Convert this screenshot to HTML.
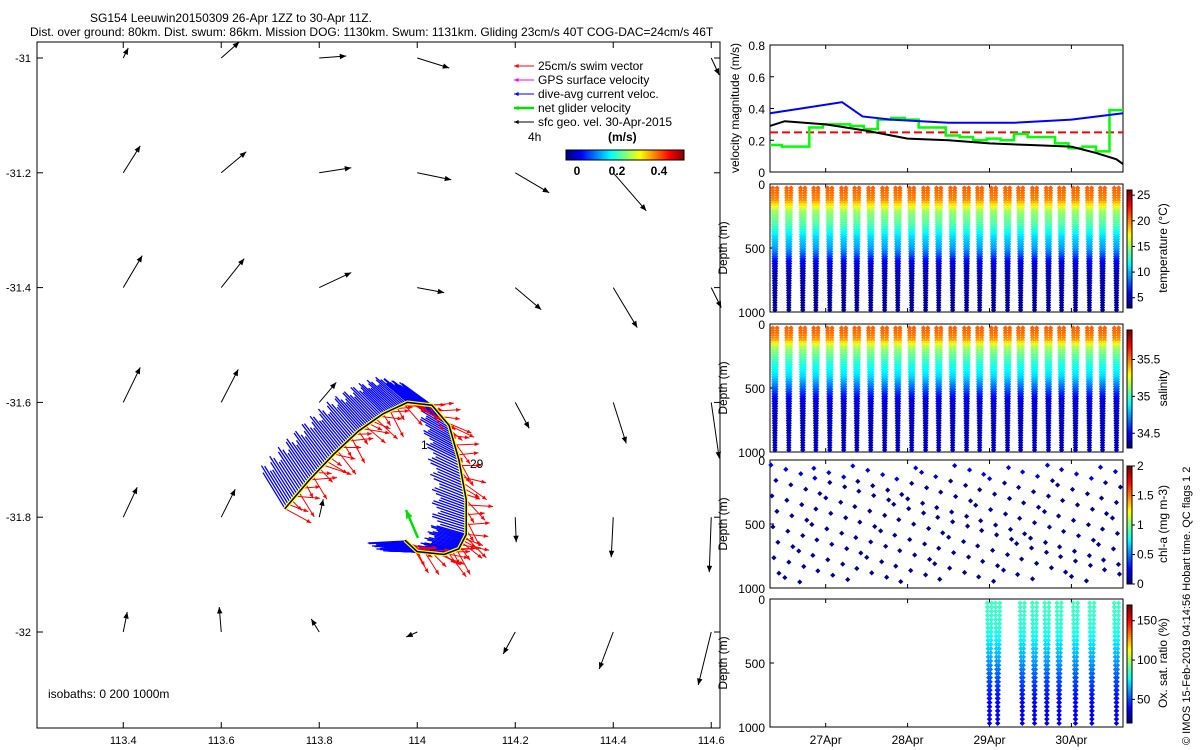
<!DOCTYPE html>
<html><head><meta charset="utf-8"><style>
body{margin:0;background:#fff}
svg{display:block;font-family:"Liberation Sans",sans-serif}
</style></head><body>
<svg id="s" width="1200" height="750" xmlns="http://www.w3.org/2000/svg">
<text x="90" y="22" font-size="12">SG154 Leeuwin20150309 26-Apr 1ZZ to 30-Apr 11Z.</text>
<text x="30" y="36" font-size="12">Dist. over ground: 80km. Dist. swum: 86km. Mission DOG: 1130km. Swum: 1131km. Gliding 23cm/s 40T COG-DAC=24cm/s 46T</text>
<g id="map"></g>
<g id="right"></g>
<text transform="translate(1190,745) rotate(-90)" font-size="11">© IMOS 15-Feb-2019 04:14:56 Hobart time. QC flags 1  2</text>
</svg>
<script>
// ---------- MAP DATA ----------
const mapLats=[-31,-31.2,-31.4,-31.6,-31.8,-32];
const mapLons=[113.4,113.6,113.8,114,114.2,114.4,114.6];
const mapU=[[0.05,0.18,0.27,0.32,null,null,0.08],[0.17,0.25,0.32,0.34,0.34,0.33,null],[0.19,0.23,0.32,0.27,0.26,0.24,0.10],[0.17,0.17,0.17,null,0.14,0.13,0.08],[0.14,0.14,0.04,null,0.01,-0.02,-0.02],[0.04,-0.02,-0.08,-0.11,-0.12,-0.14,-0.13]];
const mapV=[[0.10,0.16,0.02,-0.10,null,null,-0.17],[0.27,0.21,0.05,-0.07,-0.20,-0.38,null],[0.32,0.29,0.15,-0.05,-0.22,-0.40,-0.20],[0.35,0.33,0.20,null,-0.26,-0.41,-0.56],[0.30,0.28,0.18,null,-0.25,-0.40,-0.55],[0.20,0.25,0.13,-0.05,-0.22,-0.37,-0.53]];
const trackLon=[113.73,113.78,113.83,113.88,113.93,113.98,114.03,114.065,114.085,114.1,114.1,114.085,114.055,114.0,113.975];
const trackLat=[-31.785,-31.735,-31.69,-31.65,-31.62,-31.6,-31.605,-31.64,-31.7,-31.77,-31.83,-31.855,-31.865,-31.86,-31.84];
const xTicksMap=[113.4,113.6,113.8,114,114.2,114.4,114.6];
const yTicksMap=[-31,-31.2,-31.4,-31.6,-31.8,-32];
// ---------- TIME SERIES DATA ----------
const blueT=[26.32,26.7,27.2,27.45,27.8,28.5,29.3,30.0,30.63];
const blueV=[0.37,0.40,0.44,0.35,0.33,0.31,0.31,0.33,0.37];
const blackT=[26.32,26.5,27.0,27.5,28.0,28.5,29.0,29.5,30.0,30.3,30.55,30.63];
const blackV=[0.29,0.32,0.30,0.26,0.21,0.20,0.18,0.17,0.16,0.12,0.08,0.05];
const greenV=[0.17,0.16,0.16,0.28,0.30,0.30,0.29,0.27,0.33,0.34,0.33,0.28,0.28,0.23,0.22,0.20,0.21,0.20,0.24,0.22,0.22,0.18,0.15,0.16,0.13,0.39];
const diveT=[26.38,26.55,26.72,26.88,27.05,27.22,27.38,27.55,27.72,27.88,28.05,28.22,28.38,28.55,28.72,28.88,29.05,29.22,29.38,29.55,29.72,29.88,30.05,30.22,30.38,30.55];
const profDepth=[0,100,150,200,300,400,500,550,600,650,700,1000];
const tempVals=[21,20,17.5,15,13.5,11,9.5,8,6,5,4.3,3.5];
const salDepth=[0,50,100,150,200,300,400,500,600,700,800,1000];
const salVals=[35.55,35.52,35.45,35.2,35.1,34.95,34.85,34.65,34.45,34.42,34.4,34.4];
const oxyDepth=[30,200,300,400,500,600,700,800,1000];
const oxyVals=[85,82,75,68,60,52,45,40,35];
const oxyDives=[29.0,29.1,29.4,29.55,29.7,29.85,30.05,30.25,30.55];
const dayTicks=[27,28,29,30];
const dayLabels=['27Apr','28Apr','29Apr','30Apr'];

const NS='http://www.w3.org/2000/svg';
function mk(tag,attrs,parent,name){const e=document.createElementNS(NS,tag);for(const k in attrs)e.setAttribute(k,attrs[k]);


parent.appendChild(e);return e;}
function txt(x,y,s,parent,name,extra){const e=mk('text',Object.assign({x:x,y:y,'font-size':12},extra||{}),parent,name);e.textContent=s;return e;}
function jet(v){v=Math.max(0,Math.min(1,v));const r=Math.max(0,Math.min(1,1.5-Math.abs(4*v-3))),g=Math.max(0,Math.min(1,1.5-Math.abs(4*v-2))),b=Math.max(0,Math.min(1,1.5-Math.abs(4*v-1)));return `rgb(${r*255|0},${g*255|0},${b*255|0})`;}
function interp(xs,ys,x){if(x<=xs[0])return ys[0];for(let i=1;i<xs.length;i++)if(x<=xs[i])return ys[i-1]+(ys[i]-ys[i-1])*(x-xs[i-1])/(xs[i]-xs[i-1]);return ys[ys.length-1];}
function arrow(p,x1,y1,x2,y2,col,w,name,head){mk('line',{x1:x1,y1:y1,x2:x2,y2:y2,stroke:col,'stroke-width':w||1},p,name);
const a=Math.atan2(y2-y1,x2-x1),h=head||6;
mk('polygon',{points:`${x2},${y2} ${x2-h*Math.cos(a-0.4)},${y2-h*Math.sin(a-0.4)} ${x2-h*Math.cos(a+0.4)},${y2-h*Math.sin(a+0.4)}`,fill:col},p,name+'-head');}

// ---------- MAP ----------
const map=document.getElementById('map');
const mx=lon=>37+(lon-113.224)*490, my=lat=>58+(-31-lat)*574;
mk('rect',{x:37,y:42,width:683,height:686,fill:'none',stroke:'#000'},map,'map-frame');
xTicksMap.forEach(t=>{const x=mx(t);mk('line',{x1:x,y1:728,x2:x,y2:722,stroke:'#000'},map,'x-tick');mk('line',{x1:x,y1:42,x2:x,y2:48,stroke:'#000'},map,'x-tick-top');txt(x,744,String(t),map,'x-tick-label',{'text-anchor':'middle','font-size':11});});
yTicksMap.forEach(t=>{const y=my(t);mk('line',{x1:37,y1:y,x2:43,y2:y,stroke:'#000'},map,'y-tick');mk('line',{x1:720,y1:y,x2:714,y2:y,stroke:'#000'},map,'y-tick-right');txt(31,y+4,String(t),map,'y-tick-label',{'text-anchor':'end','font-size':11});});
mapLats.forEach((la,i)=>mapLons.forEach((lo,j)=>{const u=mapU[i][j],v=mapV[i][j];if(u==null)return;const x=mx(lo),y=my(la);arrow(map,x,y,x+u*100,y-v*100,'#000',1,'sfc-current-arrow',7);}));
// track swaths
const tp=trackLon.map((lo,i)=>[mx(lo),my(trackLat[i])]);
const pts=[];for(let i=0;i<tp.length-1;i++)for(let k=0;k<14;k++){const f=k/14;pts.push([tp[i][0]+(tp[i+1][0]-tp[i][0])*f,tp[i][1]+(tp[i+1][1]-tp[i][1])*f,i+f]);}
pts.forEach((p,n)=>{const s=p[2]/(tp.length-1);const L=1+0.15*Math.sin(n*1.3);const bx=(-22-s*12)*L, by=(-36+s*38)*L;mk('line',{x1:p[0],y1:p[1],x2:p[0]+bx,y2:p[1]+by,stroke:'#0000ff','stroke-width':1.3},map,'dive-avg-current-vector');});
pts.forEach((p,n)=>{if(n%2)return;const ang=0.5+0.6*Math.sin(n*1.7);const L=22+8*Math.cos(n*2.3);arrow(map,p[0],p[1],p[0]+L*Math.cos(ang),p[1]+L*Math.sin(ang),'#ff0000',1,'swim-vector',5);});
mk('polyline',{points:tp.map(p=>p.join(',')).join(' '),fill:'none',stroke:'#ffff00','stroke-width':4},map,'track-highlight');
mk('polyline',{points:tp.map(p=>p.join(',')).join(' '),fill:'none',stroke:'#000','stroke-width':1.5},map,'glider-track');
arrow(map,418,538,406,510,'#00e000',2.5,'net-glider-velocity',9);
txt(421,449,'1',map,'day-label');txt(470,468,'29',map,'day-label');
// legend
const lg=[['25cm/s swim vector','#ff0000'],['GPS surface velocity','#ff00ff'],['dive-avg current veloc.','#0000ff'],['net glider velocity','#00e000'],['sfc geo. vel. 30-Apr-2015','#000']];
lg.forEach((l,i)=>{const y=70+i*14;arrow(map,534,y-4,514,y-4,l[1],i==3?2.5:1,'legend-arrow',5);txt(538,y,l[0],map,'legend-entry');});
txt(528,141,'4h',map,'legend-4h');txt(608,141,'(m/s)',map,'colorbar-unit',{'font-weight':'bold'});
for(let i=0;i<118;i++)mk('rect',{x:566+i,y:150,width:1.2,height:10,fill:jet(i/118)},map,'speed-colorbar-cell');
mk('rect',{x:566,y:150,width:118,height:10,fill:'none',stroke:'#000'},map,'speed-colorbar');
[[577,'0'],[617,'0.2'],[659,'0.4']].forEach(a=>txt(a[0],175,a[1],map,'colorbar-tick',{'text-anchor':'middle','font-weight':'bold'}));
txt(48,698,'isobaths: 0    200   1000m',map,'isobaths-label');

// ---------- RIGHT PANELS ----------
const R=document.getElementById('right');
const X0=770,X1=1123,tx=t=>X0+(t-26.32)*(X1-X0)/(30.63-26.32);
const panels=[[45,172],[184,312],[324,452],[460,588],[599,727]];
panels.forEach((p,i)=>{mk('rect',{x:X0,y:p[0],width:X1-X0,height:p[1]-p[0],fill:'none',stroke:'#000'},R,'panel-frame');
dayTicks.forEach(d=>{mk('line',{x1:tx(d),y1:p[1],x2:tx(d),y2:p[1]-4,stroke:'#000'},R,'time-tick');mk('line',{x1:tx(d),y1:p[0],x2:tx(d),y2:p[0]+4,stroke:'#000'},R,'time-tick-top');});
if(i>0){const dy=d=>p[0]+d/1000*(p[1]-p[0]);[[0,'0'],[500,'500'],[1000,'1000']].forEach(a=>{mk('line',{x1:X0,y1:dy(a[0]),x2:X0+4,y2:dy(a[0]),stroke:'#000'},R,'depth-tick');txt(765,dy(a[0])+5,a[1],R,'depth-tick-label',{'text-anchor':'end'});});
txt(0,0,'Depth (m)',R,'depth-axis-title',{transform:`translate(727,${(p[0]+p[1])/2}) rotate(-90)`,'text-anchor':'middle'});}
});
dayTicks.forEach((d,i)=>txt(tx(d),744,dayLabels[i],R,'time-tick-label',{'text-anchor':'middle'}));
// velocity panel
const vy=v=>172-v*127/0.8;
[0,0.2,0.4,0.6,0.8].forEach(v=>{mk('line',{x1:X0,y1:vy(v),x2:X0+4,y2:vy(v),stroke:'#000'},R,'vel-tick');txt(765,vy(v)+5,String(v),R,'vel-tick-label',{'text-anchor':'end'});});
txt(0,0,'velocity magnitude (m/s)',R,'vel-axis-title',{transform:'translate(739,108) rotate(-90)','text-anchor':'middle'});
mk('line',{x1:X0,y1:vy(0.25),x2:X1,y2:vy(0.25),stroke:'#ff0000','stroke-width':2,'stroke-dasharray':'8,4'},R,'target-speed-line');
let g='';greenV.forEach((v,i)=>{const a=i==0?26.32:(diveT[i-1]+diveT[i])/2,b=i==greenV.length-1?30.63:(diveT[i]+diveT[i+1])/2;g+=`${tx(a)},${vy(v)} ${tx(b)},${vy(v)} `;});
mk('polyline',{points:g,fill:'none',stroke:'#00ff00','stroke-width':2.5},R,'net-velocity-line');
mk('polyline',{points:blueT.map((t,i)=>tx(t)+','+vy(blueV[i])).join(' '),fill:'none',stroke:'#0000ff','stroke-width':2},R,'dac-velocity-line');
mk('polyline',{points:blackT.map((t,i)=>tx(t)+','+vy(blackV[i])).join(' '),fill:'none',stroke:'#000','stroke-width':2},R,'sfc-velocity-line');
// scatter panels
function dia(xx,yy,col,name,sz){const s=sz||2.6;mk('polygon',{points:`${xx},${yy-s} ${xx+s},${yy} ${xx},${yy+s} ${xx-s},${yy}`,fill:col},R,name);}
function profiles(pi,times,vals,depths,lo,hi,name,step){const p=panels[pi];const dy=d=>p[0]+4+d/1000*(p[1]-p[0]-6);
times.forEach((t,k)=>{const x=tx(t);for(let d=0;d<=1000;d+=step){const v=interp(depths,vals,d);const off=(1-d/1000)*2.2;
[x-off,x+off].forEach(xx=>dia(xx,dy(d),jet((v-lo)/(hi-lo)),name));}});}
profiles(1,diveT,tempVals,profDepth,3,26,'temperature-point',20);
profiles(2,diveT,salVals,salDepth,34.3,35.9,'salinity-point',20);
profiles(4,oxyDives,oxyVals,oxyDepth,20,170,'oxygen-point',34);
// chl sparse
(function(){const p=panels[3];diveT.forEach((t,k)=>{for(let j=0;j<8;j++){const d=((k*37+j*131)%1000);const x=tx(t)+((j*5+k)%9)-4;dia(x,p[0]+5+d/1000*(p[1]-p[0]-10),jet(d<120?0.1:0.02),'chla-point');}});})();
// colorbars
const cbs=[[1,3,26,[[5,'5'],[10,'10'],[15,'15'],[20,'20'],[25,'25']],'temperature (°C)'],[2,34.3,35.9,[[34.5,'34.5'],[35,'35'],[35.5,'35.5']],'salinity'],[3,0,2,[[0,'0'],[0.5,'0.5'],[1,'1'],[1.5,'1.5'],[2,'2']],'chl-a (mg m-3)'],[4,20,170,[[50,'50'],[100,'100'],[150,'150']],'Ox. sat. ratio (%)']];
cbs.forEach(c=>{const p=panels[c[0]],t=p[0]+6,b=p[1]-4;for(let i=0;i<60;i++)mk('rect',{x:1127,y:b-(i+1)*(b-t)/60,width:5,height:(b-t)/60+0.5,fill:jet(i/59)},R,'colorbar-cell');
mk('rect',{x:1127,y:t,width:5,height:b-t,fill:'none',stroke:'#000'},R,'colorbar-frame');
c[3].forEach(a=>{const y=b-(a[0]-c[1])/(c[2]-c[1])*(b-t);mk('line',{x1:1132,y1:y,x2:1135,y2:y,stroke:'#000'},R,'colorbar-tick');txt(1137,y+4,a[1],R,'colorbar-tick-label');});
txt(0,0,c[4],R,'colorbar-title',{transform:`translate(1167,${(p[0]+p[1])/2}) rotate(-90)`,'text-anchor':'middle'});});
</script>
</body></html>
